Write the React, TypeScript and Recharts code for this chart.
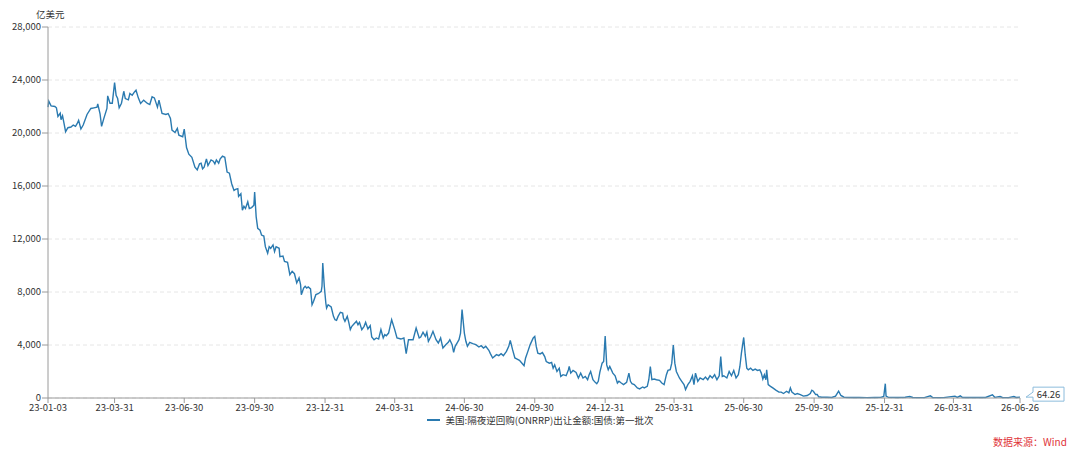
import { LineChart, Line, XAxis, YAxis, CartesianGrid } from 'recharts'

const START = '2023-01-03'
const SERIES_NAME = '美国:隔夜逆回购(ONRRP)出让金额:国债:第一批次'
const UNIT = '亿美元'
const SOURCE = '数据来源：Wind'
const LINE_COLOR = '#2a7ab0'

const TICK_DATES = [
  '2023-01-03', '2023-03-31', '2023-06-30', '2023-09-30', '2023-12-31',
  '2024-03-31', '2024-06-30', '2024-09-30', '2024-12-31', '2025-03-31',
  '2025-06-30', '2025-09-30', '2025-12-31', '2026-03-31', '2026-06-26',
]
const Y_TICKS = [0, 4000, 8000, 12000, 16000, 20000, 24000, 28000]

// days since START
const DAYS = [
  0, 1, 4, 9, 11, 13, 16, 17, 19, 21, 23, 26, 30, 33, 36, 38, 40, 43, 46, 51,
  56, 60, 64, 65, 68, 70, 73, 77, 78, 81, 84, 87, 89, 91, 93, 96, 99, 101, 105, 107,
  110, 113, 115, 118, 121, 125, 130, 133, 136, 139, 143, 145, 149, 154, 157, 160, 162, 166, 169, 171,
  176, 178, 181, 184, 188, 192, 195, 198, 200, 202, 204, 207, 209, 213, 216, 218, 220, 223, 225, 228,
  231, 232, 234, 237, 240, 243, 245, 248, 249, 252, 254, 256, 258, 261, 263, 266, 269, 270, 272, 274,
  277, 279, 282, 284, 287, 289, 291, 294, 296, 298, 302, 303, 307, 309, 313, 316, 319, 322, 325, 328,
  330, 331, 334, 336, 338, 340, 343, 345, 347, 350, 353, 357, 358, 359, 361, 363, 364, 366, 370, 373,
  375, 377, 379, 382, 385, 386, 388, 391, 393, 395, 397, 400, 403, 405, 407, 410, 413, 415, 418, 421,
  423, 426, 429, 432, 435, 438, 440, 442, 445, 449, 453, 456, 461, 465, 468, 471, 477, 481, 485, 487,
  490, 493, 495, 497, 500, 503, 507, 510, 513, 516, 520, 523, 525, 528, 530, 532, 535, 537, 539, 541,
  544, 546, 548, 551, 555, 559, 563, 566, 569, 572, 576, 578, 581, 586, 589, 592, 595, 599, 602, 604,
  607, 610, 613, 616, 619, 622, 624, 627, 630, 634, 636, 638, 640, 643, 646, 649, 651, 655, 658, 660,
  662, 665, 668, 670, 673, 677, 680, 681, 683, 686, 690, 693, 696, 699, 702, 705, 707, 709, 712, 715,
  717, 719, 721, 724, 726, 728, 730, 732, 734, 738, 741, 744, 746, 749, 752, 756, 759, 761, 763, 766,
  770, 773, 777, 779, 783, 785, 787, 789, 792, 795, 799, 802, 805, 808, 810, 813, 815, 817, 819, 821,
  825, 828, 831, 833, 836, 839, 842, 844, 846, 849, 852, 856, 859, 862, 865, 868, 871, 874, 877, 879,
  881, 883, 887, 890, 893, 896, 899, 902, 904, 906, 909, 911, 913, 915, 918, 921, 924, 927, 930, 932,
  934, 936, 938, 939, 941, 944, 947, 951, 955, 958, 961, 965, 968, 970, 972, 976, 979, 983, 987, 992,
  996, 998, 1000, 1003, 1005, 1007, 1011, 1018, 1024, 1029, 1033, 1036, 1040, 1050, 1060, 1070, 1080, 1088, 1092, 1094,
  1095, 1098, 1110, 1120, 1126, 1130, 1145, 1153, 1156, 1170, 1185, 1188, 1192, 1195, 1210, 1225, 1234, 1237, 1244, 1247,
  1255, 1262, 1265, 1270,
]

const VALUES = [
  21950, 22400, 22050, 22000, 21900, 21250, 21500, 21000, 21300, 20700, 20100, 20400, 20450, 20600, 20500, 20700, 20950, 20300, 20600, 21400,
  21850, 21900, 21950, 22200, 21450, 20500, 21100, 21850, 22800, 22250, 22250, 23800, 22850, 22600, 21900, 22250, 23150, 22600, 22500, 22980,
  22850, 23100, 23230, 22650, 22230, 22480, 22230, 22150, 22730, 22650, 21950, 22480, 21470, 21400, 21470, 21100, 20220, 20040, 20340, 19840,
  19720, 20300, 18900, 18400, 18170, 17420, 17220, 17680, 17720, 17300, 17420, 18050, 17550, 17970, 17870, 17670, 17970, 17720, 18050, 18250,
  18170, 17800, 17050, 16970, 16170, 15670, 15750, 15800, 15220, 15420, 14170, 14470, 14300, 14800, 14300, 14370, 14550, 15550, 13670, 12800,
  12670, 12300, 12220, 11420, 10920, 11420, 11300, 11550, 11050, 11420, 11300, 10670, 10720, 10300, 10240, 9310, 9560, 9380, 8680, 9060,
  8550, 7800, 8300, 8430, 8300, 8380, 8230, 7040, 7300, 7800, 7870, 8050, 8430, 10190, 8430, 7170, 6790, 7040, 6870, 6160,
  5910, 5860, 6160, 6470, 6410, 6040, 5790, 6160, 5710, 5160, 5410, 5610, 5790, 5530, 5710, 5160, 5410, 5710, 5210, 5460,
  4600, 4400, 4530, 4450, 5160, 4530, 4780, 4700, 4900, 5910, 5160, 4530, 4450, 4530, 3350, 4400, 4400, 5280, 4530, 4600,
  4960, 4650, 4960, 4280, 4600, 5030, 4400, 4150, 4530, 3770, 4030, 4200, 4400, 4030, 3450, 3900, 4200, 4400, 4900, 6670,
  4900, 4280, 3900, 4200, 4100, 4030, 3850, 3950, 3770, 3900, 3600, 3350, 3020, 3270, 3200, 3350, 3200, 3520, 3900, 4350,
  3650, 3020, 2940, 2840, 2640, 2440, 3020, 3520, 4030, 4530, 4650, 3870, 3380, 3330, 3430, 3130, 2750, 2630, 2680, 2250,
  2500, 2000, 2250, 1630, 1760, 1680, 2130, 2380, 1880, 2080, 1930, 1510, 1880, 1510, 1630, 1380, 1760, 2000, 1380, 1180,
  1080, 1260, 1930, 2630, 2750, 4670, 2500, 2130, 2380, 1880, 1680, 1130, 1260, 1130, 1010, 1180, 1880, 1260, 1080, 1010,
  760, 690, 830, 760, 880, 1380, 2380, 1380, 1430, 1380, 1330, 1130, 1010, 1760, 2080, 2130, 2630, 4000, 2630, 2000,
  1510, 1260, 1010, 640, 1010, 1260, 1680, 1010, 1880, 1260, 1510, 1380, 1580, 1380, 1680, 1510, 1760, 1380, 1680, 3120,
  1630, 1680, 1510, 2000, 1680, 2080, 1510, 1760, 2380, 3380, 4570, 3250, 2250, 2130, 2250, 2080, 2180, 2080, 2130, 1880,
  1430, 1760, 1380, 2130, 1010, 880, 760, 590, 440, 440, 340, 510, 390, 760, 440, 260, 340, 260, 140, 190,
  340, 590, 510, 260, 260, 90, 60, 60, 40, 140, 510, 190, 60, 40, 50, 30, 40, 50, 120, 1080,
  140, 50, 40, 60, 110, 40, 30, 160, 40, 30, 140, 40, 160, 40, 50, 40, 240, 50, 110, 40,
  30, 110, 40, 64.26,
]

const dayOf = (iso: string) => {
  const [y, m, d] = iso.split('-').map(Number)
  const [y0, m0, d0] = START.split('-').map(Number)
  return Math.round((Date.UTC(y, m - 1, d) - Date.UTC(y0, m0 - 1, d0)) / 86400000)
}

const TICKS = TICK_DATES.map(dayOf)
const TICK_LABEL: Record<number, string> = {}
TICK_DATES.forEach((s, i) => {
  TICK_LABEL[TICKS[i]] = s.slice(2)
})

const data = DAYS.map((d, i) => ({ d, v: VALUES[i] }))
const LAST = data.length - 1

const FONT = '"Noto Sans CJK SC", "Noto Sans", sans-serif'

function EndLabel(props: any) {
  const { x, y, index, value } = props
  if (index !== LAST) return null
  const left = x + 13
  const top = y - 10
  const w = 31
  const h = 14
  return (
    <g>
      <path
        d={`M${left},${top} L${left + w},${top} L${left + w},${top + h} L${left},${top + h} L${left},${top + 10} L${x + 6},${y} L${left},${top + 5} Z`}
        fill="#fff"
        stroke="#8cbcdc"
        strokeWidth={1}
      />
      <text x={left + w / 2} y={top + h / 2 + 3.5} textAnchor="middle" fontSize={9.5} fill="#333" fontFamily={FONT}>
        {value}
      </text>
    </g>
  )
}

export default function App() {
  return (
    <div style={{ position: 'relative', width: 1080, height: 455, background: '#fff', fontFamily: FONT }}>
      <style>{'body{margin:0}'}</style>
      <LineChart
        width={1080}
        height={455}
        data={data}
        margin={{ top: 27, right: 60, bottom: 27, left: 0 }}
      >
        <CartesianGrid vertical={false} stroke="#e6e6e6" strokeDasharray="4 3" />
        <XAxis
          dataKey="d"
          type="number"
          domain={[0, 1270]}
          ticks={TICKS}
          interval={0}
          height={30}
          tickFormatter={(t: number) => TICK_LABEL[t] ?? ''}
          tick={{ fontSize: 9.5, fill: '#333', fontFamily: FONT }}
          stroke="#9a9a9a"
          tickSize={5}
          tickMargin={1}
        />
        <YAxis
          type="number"
          domain={[0, 28000]}
          ticks={Y_TICKS}
          interval={0}
          width={48}
          tickFormatter={(v: number) => v.toLocaleString('en-US')}
          tick={{ fontSize: 9.5, fill: '#333', fontFamily: FONT }}
          stroke="#9a9a9a"
          tickSize={6}
          tickMargin={1}
        />
        <Line
          dataKey="v"
          type="linear"
          stroke={LINE_COLOR}
          strokeWidth={1.4}
          dot={false}
          activeDot={false}
          isAnimationActive={false}
          label={<EndLabel />}
        />
      </LineChart>
      <div style={{ position: 'absolute', left: 36, top: 7, fontSize: 9.5, color: '#333' }}>{UNIT}</div>
      <div
        style={{
          position: 'absolute',
          left: 0,
          width: 1080,
          top: 413,
          display: 'flex',
          justifyContent: 'center',
          alignItems: 'center',
          fontSize: 9.5,
          lineHeight: '14px',
          color: '#333',
        }}
      >
        <span style={{ display: 'inline-block', width: 13, height: 2, background: LINE_COLOR, marginRight: 6 }} />
        <span>{SERIES_NAME}</span>
      </div>
      <div style={{ position: 'absolute', left: 993, top: 434, fontSize: 10, color: '#e0333a' }}>{SOURCE}</div>
    </div>
  )
}
